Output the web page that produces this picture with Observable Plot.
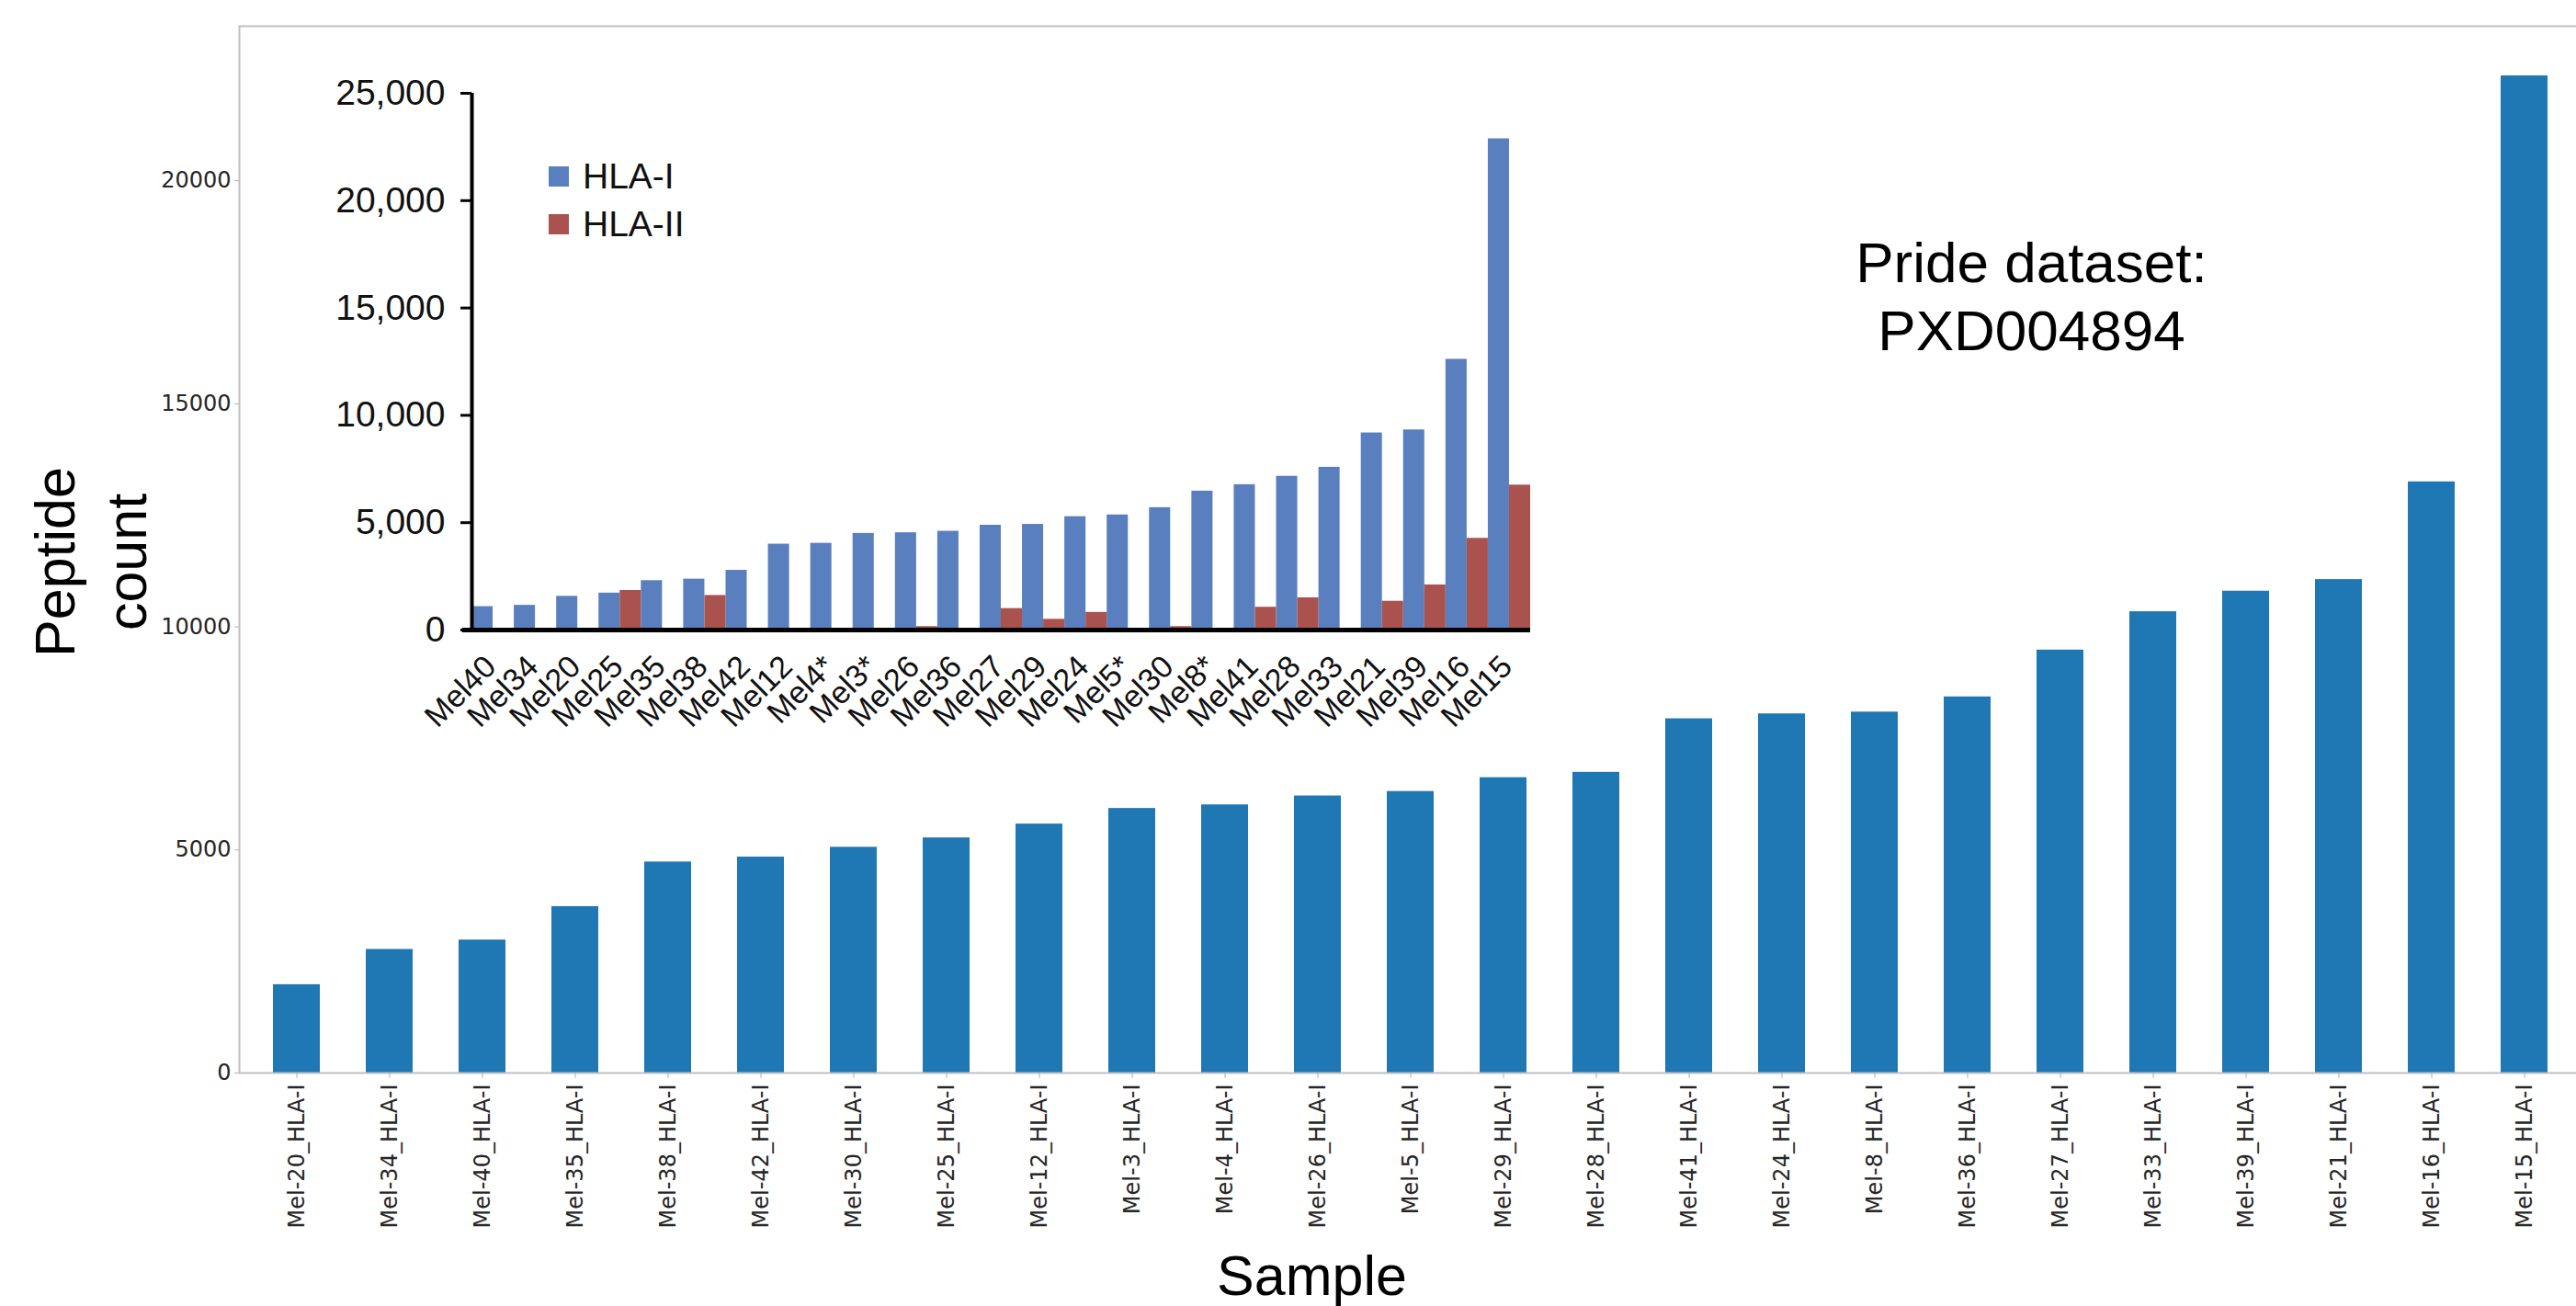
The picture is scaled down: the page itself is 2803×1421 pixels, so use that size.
<!DOCTYPE html>
<html>
<head>
<meta charset="utf-8">
<script src="https://cdn.jsdelivr.net/npm/d3@7"></script>
<script src="https://cdn.jsdelivr.net/npm/@observablehq/plot@0.6"></script>
<style>
  html, body { margin: 0; padding: 0; background: #fff; overflow: hidden; }
  #wrap { position: relative; width: 2803px; height: 1421px; overflow: hidden; background: #fff; }
  #wrap svg { position: absolute; left: 0; top: 0; max-width: none; }
  .leg { position: absolute; display: flex; align-items: center; height: 22px;
         font-family: "Liberation Sans", Arial, sans-serif; font-size: 39px; color: #111; }
  .leg .sw { width: 22px; height: 22px; margin-right: 15px; }
  .leg .lb { line-height: 22px; white-space: nowrap; }
</style>
</head>
<body>
<div id="wrap"></div>
<script>
// ---- Main chart data ----
const samples = ["Mel-20_HLA-I","Mel-34_HLA-I","Mel-40_HLA-I","Mel-35_HLA-I","Mel-38_HLA-I","Mel-42_HLA-I","Mel-30_HLA-I","Mel-25_HLA-I","Mel-12_HLA-I","Mel-3_HLA-I","Mel-4_HLA-I","Mel-26_HLA-I","Mel-5_HLA-I","Mel-29_HLA-I","Mel-28_HLA-I","Mel-41_HLA-I","Mel-24_HLA-I","Mel-8_HLA-I","Mel-36_HLA-I","Mel-27_HLA-I","Mel-33_HLA-I","Mel-39_HLA-I","Mel-21_HLA-I","Mel-16_HLA-I","Mel-15_HLA-I"];
const peptideCounts = [1980, 2770, 2980, 3730, 4730, 4840, 5060, 5270, 5580, 5930, 6010, 6210, 6310, 6620, 6740, 7940, 8050, 8090, 8430, 9480, 10340, 10800, 11060, 13250, 22350];
const mainYTicks = [0, 5000, 10000, 15000, 20000];

// ---- Inset chart data ----
const insetSamples = ["Mel40","Mel34","Mel20","Mel25","Mel35","Mel38","Mel42","Mel12","Mel4*","Mel3*","Mel26","Mel36","Mel27","Mel29","Mel24","Mel5*","Mel30","Mel8*","Mel41","Mel28","Mel33","Mel21","Mel39","Mel16","Mel15"];
const hlaI  = [1090, 1150, 1570, 1720, 2300, 2370, 2780, 4000, 4040, 4500, 4530, 4600, 4880, 4920, 5280, 5360, 5700, 6470, 6770, 7160, 7580, 9180, 9320, 12610, 22880];
const hlaII = [0, 0, 0, 1840, 0, 1610, 0, 0, 0, 0, 160, 0, 1000, 500, 820, 0, 160, 0, 1060, 1500, 0, 1340, 2100, 4270, 6750];
const insetYTicks = [0, 5000, 10000, 15000, 20000, 25000];
const seriesNames = ["HLA-I", "HLA-II"];
const seriesColors = ["#5a7fbe", "#aa524d"];

const wrap = document.getElementById("wrap");

// ---- Main plot ----
const mainData = samples.map((s, i) => ({sample: s, count: peptideCounts[i]}));
const mainPlot = Plot.plot({
  width: 2810, height: 1421,
  marginLeft: 260, marginRight: 1, marginTop: 28, marginBottom: 254,
  style: {background: "transparent", maxWidth: "none", overflow: "visible", fontFamily: "DejaVu Sans", fontSize: "24px"},
  x: {domain: samples, paddingInner: 0.5, paddingOuter: 0.25, label: null},
  y: {domain: [0, 23464], label: null},
  marks: [
    Plot.barY(mainData, {x: "sample", y: "count", fill: "#1f77b4"}),
    Plot.frame({stroke: "#c0c0c0", strokeWidth: 2}),
    Plot.axisY({ticks: mainYTicks, tickFormat: d3.format("d"), tickSize: 5, tickPadding: 4,
                color: "#262626", stroke: "#b0b0b0", label: null}),
    Plot.axisX({tickRotate: -90, tickSize: 6, tickPadding: 6, color: "#262626", stroke: "#b0b0b0", label: null}),
    Plot.text(["Peptide"], {text: d => d, frameAnchor: "left", rotate: -90, dx: -180, dy: 13.5,
                textAnchor: "middle", lineAnchor: "bottom", fontSize: 61, fontFamily: "Liberation Sans", fill: "#000"}),
    Plot.text(["count"], {text: d => d, frameAnchor: "left", rotate: -90, dx: -102, dy: 13.5,
                textAnchor: "middle", lineAnchor: "bottom", fontSize: 61, fontFamily: "Liberation Sans", fill: "#000"}),
    Plot.text(["Sample"], {text: d => d, frameAnchor: "bottom", dx: -107.5, dy: 241,
                textAnchor: "middle", lineAnchor: "bottom", fontSize: 61, fontFamily: "Liberation Sans", fill: "#000"}),
    Plot.text(["Pride dataset:"], {text: d => d, frameAnchor: "top", dx: 675.5, dy: 278,
                textAnchor: "middle", lineAnchor: "bottom", fontSize: 62, fontFamily: "Liberation Sans", fill: "#000"}),
    Plot.text(["PXD004894"], {text: d => d, frameAnchor: "top", dx: 675.5, dy: 352,
                textAnchor: "middle", lineAnchor: "bottom", fontSize: 62, fontFamily: "Liberation Sans", fill: "#000"})
  ]
});
wrap.appendChild(mainPlot);

// ---- Inset plot ----
const insetData = insetSamples.map((s, i) => ({i, s, a: hlaI[i], b: hlaII[i]}));
const insetPlot = Plot.plot({
  width: 1700, height: 800,
  marginLeft: 513, marginRight: 35, marginTop: 101, marginBottom: 115,
  style: {background: "transparent", maxWidth: "none", overflow: "visible", fontFamily: "Liberation Sans"},
  x: {type: "linear", domain: [0, insetSamples.length], axis: null},
  y: {domain: [0, 25000], label: null},
  marks: [
    Plot.rect(insetData, {x1: d => d.i, x2: d => d.i + 0.5, y1: 0, y2: "a", fill: seriesColors[0]}),
    Plot.rect(insetData, {x1: d => d.i + 0.5, x2: d => d.i + 1, y1: 0, y2: "b", fill: seriesColors[1]}),
    Plot.ruleX([0], {y1: 0, y2: 25000, stroke: "#000", strokeWidth: 4}),
    Plot.ruleY([0], {x1: 0, x2: insetSamples.length, stroke: "#000", strokeWidth: 5, insetLeft: -10}),
    Plot.axisY({ticks: insetYTicks, tickFormat: d3.format(","), tickSize: 12, tickPadding: 17,
                fontSize: 39, color: "#111", stroke: "#000", strokeWidth: 3, label: null}),
    Plot.text(insetData, {x: d => d.i + 0.5, y: d => 0, text: "s", rotate: -45, textAnchor: "end",
                lineAnchor: "bottom", dx: 5, dy: 42, fontSize: 34, fill: "#111"})
  ]
});
wrap.appendChild(insetPlot);

// ---- Inset legend ----
seriesNames.forEach((name, k) => {
  const item = document.createElement("div");
  item.className = "leg";
  item.style.left = "597px";
  item.style.top = (181 + k * 52) + "px";
  const sw = document.createElement("span");
  sw.className = "sw";
  sw.style.background = seriesColors[k];
  const lb = document.createElement("span");
  lb.className = "lb";
  lb.textContent = name;
  item.appendChild(sw);
  item.appendChild(lb);
  wrap.appendChild(item);
});
</script>
</body>
</html>
